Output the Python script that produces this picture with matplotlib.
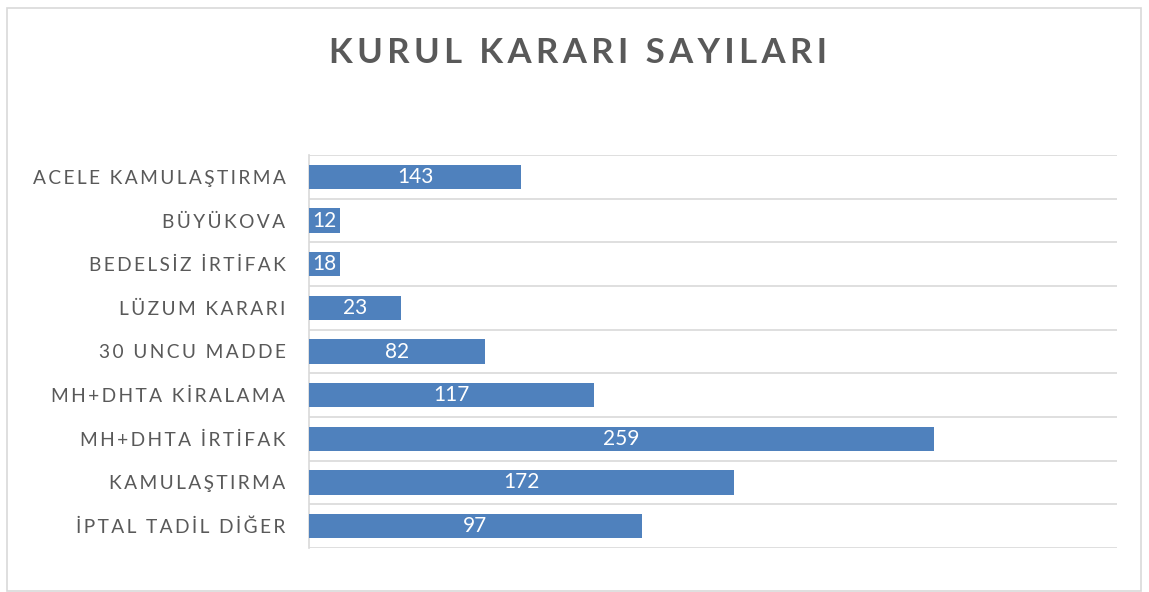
import matplotlib.pyplot as plt
from matplotlib.patches import Rectangle

# categories from top to bottom as shown
categories = ['ACELE KAMULAŞTIRMA', 'BÜYÜKOVA', 'BEDELSİZ İRTİFAK', 'LÜZUM KARARI',
              '30 UNCU MADDE', 'MH+DHTA KİRALAMA', 'MH+DHTA İRTİFAK',
              'KAMULAŞTIRMA', 'İPTAL TADİL DİĞER']
# numbers written on the bars
values = [143, 12, 18, 23, 82, 117, 259, 172, 97]
# bar lengths as drawn in the chart (they do not follow the labels)
bar_lengths = [88, 13, 13, 38, 73, 118, 259, 176, 138]

title = 'KURUL KARARI SAYILARI'
bar_color = '#4F81BD'
text_color = '#595959'
grid_color = '#D9D9D9'
fonts = ['Lato', 'DejaVu Sans']


def spaced(s):
    # wide letter spacing like the original labels
    return '\u2009'.join(s)


def main():
    fig = plt.figure(figsize=(11.49, 5.92), dpi=100)
    fig.patch.set_facecolor('white')

    # outer chart border
    W, H = 1149, 592
    fig.patches.append(Rectangle((7 / W, 1 / H), 1134 / W, 583 / H,
                                 transform=fig.transFigure, fill=False,
                                 edgecolor=grid_color, linewidth=1.2))

    ax = fig.add_axes([309 / W, 44 / H, 808 / W, 393 / H])
    y = list(range(len(categories)))
    bars = ax.barh(y, bar_lengths, height=0.56, color=bar_color, zorder=3)

    for rect, v in zip(bars, values):
        ax.text(rect.get_x() + rect.get_width() / 2, rect.get_y() + rect.get_height() / 2,
                str(v), ha='center', va='center', color='white', fontsize=15,
                family=fonts, zorder=4)

    ax.set_xlim(0, 335)
    ax.set_ylim(len(categories) - 0.5, -0.5)
    ax.set_yticks(y)
    ax.set_yticklabels([spaced(c) for c in categories], family=fonts,
                       fontsize=13.8, color=text_color)
    ax.set_yticks([i - 0.5 for i in range(len(categories) + 1)], minor=True)
    ax.tick_params(axis='y', which='both', length=0, pad=17)
    ax.set_xticks([])
    ax.grid(True, axis='y', which='minor', color=grid_color, linewidth=1.2, zorder=0)

    for side in ['top', 'right', 'bottom']:
        ax.spines[side].set_visible(False)
    ax.spines['left'].set_color(grid_color)
    ax.spines['left'].set_linewidth(1.2)

    fig.text(578 / W, 1 - 53 / H, spaced(title), ha='center', va='center',
             fontsize=25, fontweight='bold', color=text_color, family=fonts)

    fig.savefig('out.png', dpi=100)


if __name__ == "__main__":
    main()
